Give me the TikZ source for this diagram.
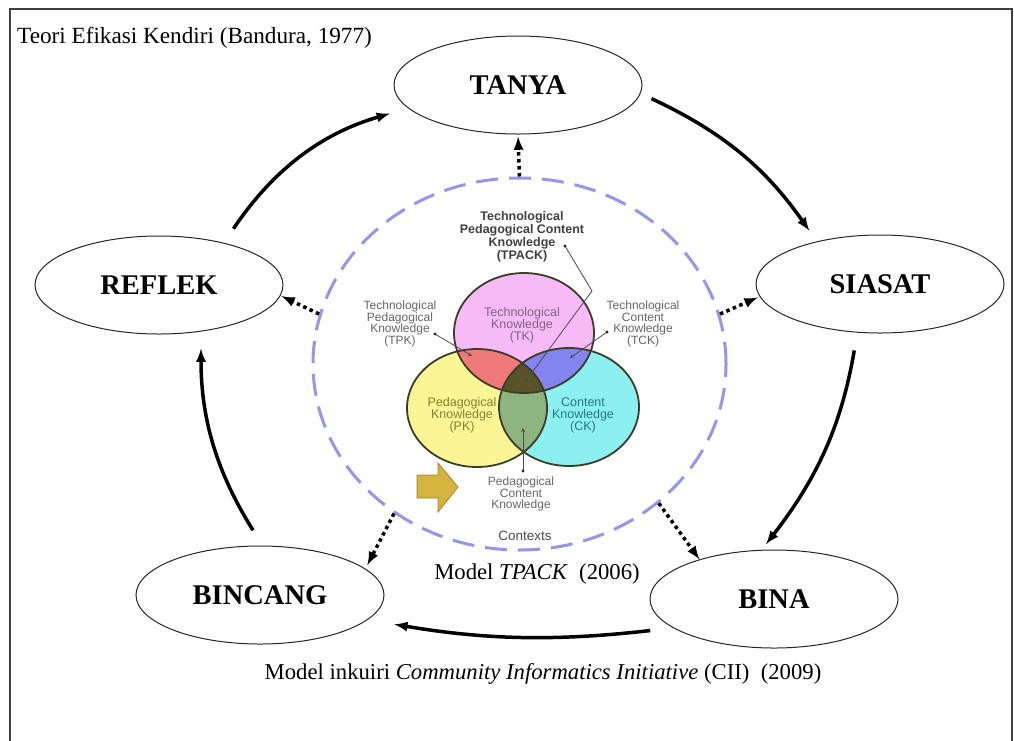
\documentclass[tikz,border=0pt]{standalone}
\usepackage{fontspec}
\setmainfont{Liberation Serif}
\setsansfont{Liberation Sans}
\usetikzlibrary{shapes.geometric, arrows}

\definecolor{garisungu}{RGB}{150,150,232}
\definecolor{tkpink}{RGB}{246,186,246}
\definecolor{pkkuning}{RGB}{250,246,150}
\definecolor{ckbiru}{RGB}{140,240,240}
\definecolor{tpkmerah}{RGB}{240,122,122}
\definecolor{tckungu}{RGB}{132,132,240}
\definecolor{pckhijau}{RGB}{142,180,128}
\definecolor{tpackgelap}{RGB}{88,84,40}
\definecolor{garisvenn}{RGB}{60,60,40}
\definecolor{tkteks}{RGB}{130,100,130}
\definecolor{pkteks}{RGB}{130,130,50}
\definecolor{ckteks}{RGB}{40,120,130}
\definecolor{panahkuning}{RGB}{212,180,62}
\definecolor{panahgaris}{RGB}{160,130,40}

\tikzstyle{elips} = [ellipse, draw=black!85, line width=1pt, minimum width=248pt, minimum height=98pt, inner sep=0pt, font=\fontsize{28.5}{28.5}\selectfont\bfseries]
\tikzstyle{teks} = [align=center, inner sep=0pt, font=\fontsize{22.7}{26}\selectfont]
\tikzstyle{venn} = [align=center, inner sep=0pt, text=black!60, font=\sffamily\fontsize{12}{11.5}\selectfont]
\tikzstyle{arrow} = [line width=3.5pt,->,>=latex]
\tikzstyle{titik} = [line width=3.5pt,dash pattern=on 3.5pt off 3.5pt,->,>=latex]
\tikzstyle{penunjuk} = [draw=black!70, line width=0.8pt]

\begin{document}
\begin{tikzpicture}[x=1pt, y=-1pt]
    \useasboundingbox (0,0) rectangle (1014,740);
    \fill[white] (0,0) rectangle (1014,740);
    % bingkai
    \draw[black!75, line width=1.5pt] (10,760) -- (10,9) -- (1012,9) -- (1012,760);
    \node (teori) [teks, anchor=base west, font=\fontsize{23.2}{26}\selectfont] at (17,43) {Teori Efikasi Kendiri (Bandura, 1977)};

    % kitaran inkuiri CII
    \node (tanya) [elips] at (518,85) {TANYA};
    \node (siasat) [elips] at (880,284) {SIASAT};
    \node (bina) [elips] at (774,599) {BINA};
    \node (bincang) [elips] at (260,595) {BINCANG};
    \node (reflek) [elips] at (159,285) {REFLEK};

    \draw [arrow, shorten <=12pt, shorten >=13pt] (tanya.-4) to[bend left=15] (siasat.146);
    \draw [arrow, shorten <=18pt, shorten >=7pt] (siasat.245) to[bend left=14] (bina.104);
    \draw [arrow, shorten <=23pt, shorten >=27pt] (bina.196) to[bend left=8] (bincang.-13);
    \draw [arrow, shorten <=18pt, shorten >=17pt] (bincang.87) to[bend left=16] (reflek.-48);
    \draw [arrow, shorten <=17pt, shorten >=19pt] (reflek.33) to[bend left=20] (tanya.192);

    % model TPACK
    \node (konteks) [ellipse, draw=garisungu, line width=3pt, dash pattern=on 22pt off 11pt, minimum width=413pt, minimum height=372pt, inner sep=0pt] at (519.5,364) {};

    \fill[pkkuning] (477,408) ellipse [x radius=70pt, y radius=59pt];
    \fill[ckbiru] (569,407) ellipse [x radius=70pt, y radius=59pt];
    \fill[tkpink] (524,333) ellipse [x radius=70pt, y radius=60pt];
    \begin{scope}
        \clip (524,333) ellipse [x radius=70pt, y radius=60pt];
        \fill[tpkmerah] (477,408) ellipse [x radius=70pt, y radius=59pt];
        \fill[tckungu] (569,407) ellipse [x radius=70pt, y radius=59pt];
    \end{scope}
    \begin{scope}
        \clip (477,408) ellipse [x radius=70pt, y radius=59pt];
        \fill[pckhijau] (569,407) ellipse [x radius=70pt, y radius=59pt];
        \clip (569,407) ellipse [x radius=70pt, y radius=59pt];
        \fill[tpackgelap] (524,333) ellipse [x radius=70pt, y radius=60pt];
    \end{scope}
    \draw[garisvenn, line width=1.8pt] (524,333) ellipse [x radius=70pt, y radius=60pt];
    \draw[garisvenn, line width=1.8pt] (477,408) ellipse [x radius=70pt, y radius=59pt];
    \draw[garisvenn, line width=1.8pt] (569,407) ellipse [x radius=70pt, y radius=59pt];

    \node (tk) [venn, text=tkteks, font=\sffamily\fontsize{12.5}{12}\selectfont] at (522,325) {Technological\\Knowledge\\(TK)};
    \node (pk) [venn, text=pkteks, font=\sffamily\fontsize{12.5}{12}\selectfont] at (462,415) {Pedagogical\\Knowledge\\(PK)};
    \node (ck) [venn, text=ckteks, font=\sffamily\fontsize{12.5}{12}\selectfont] at (583,415) {Content\\Knowledge\\(CK)};
    \node (tpk) [venn] at (400,324) {Technological\\Pedagogical\\Knowledge\\(TPK)};
    \node (tck) [venn] at (643,324) {Technological\\Content\\Knowledge\\(TCK)};
    \node (pck) [venn] at (521,494) {Pedagogical\\Content\\Knowledge};
    \node (tpack) [venn, text=black!75, font=\sffamily\bfseries\fontsize{12.5}{13}\selectfont] at (522,237) {Technological\\Pedagogical Content\\Knowledge\\(TPACK)};
    \node (ctx) [venn, text=black!70, font=\sffamily\fontsize{13.5}{13}\selectfont] at (525,536) {Contexts};

    % garis penunjuk
    \coordinate (tpackujung) at (565,246);
    \coordinate (tpacksiku) at (592,291);
    \coordinate (tpackhala) at (525,382);
    \coordinate (tpkujung) at (435,334);
    \coordinate (tpkhala) at (472,356);
    \coordinate (tckujung) at (607,332);
    \coordinate (tckhala) at (570,358);
    \coordinate (pckujung) at (523,471);
    \coordinate (pckhala) at (523,428);
    \draw [penunjuk, ->, >=stealth] (tpackujung) -- (tpacksiku) -- (tpackhala);
    \draw [penunjuk, ->, >=stealth] (tpkujung) -- (tpkhala);
    \draw [penunjuk, ->, >=stealth] (tckujung) -- (tckhala);
    \draw [penunjuk, ->, >=stealth] (pckujung) -- (pckhala);
    \foreach \p in {tpackujung, tpkujung, tckujung, pckujung}
        \fill[black!85] (\p) circle (1.6pt);

    \filldraw[fill=panahkuning, draw=panahgaris, line width=0.8pt] (417,475) -- (438,475) -- (438,463) -- (458,487) -- (438,512) -- (438,498) -- (417,498) -- cycle;

    % anak panah bertitik
    \draw [titik, shorten >=2pt] (konteks.90) -- (tanya.-90);
    \draw [titik, shorten >=1pt] (konteks.166) -- (reflek.-5);
    \draw [titik, shorten >=2pt] (konteks.14) -- (siasat.186);
    \draw [titik, shorten >=4pt] (konteks.230) -- (bincang.14);
    \draw [titik] (konteks.-45) -- (bina.152);

    \node (modeltpack) [teks, anchor=base] at (537,579) {Model \textit{TPACK}\ \ (2006)};
    \node (modelcii) [teks, anchor=base] at (543,679) {Model inkuiri \textit{Community Informatics Initiative} (CII)\ \ (2009)};
\end{tikzpicture}
\end{document}
